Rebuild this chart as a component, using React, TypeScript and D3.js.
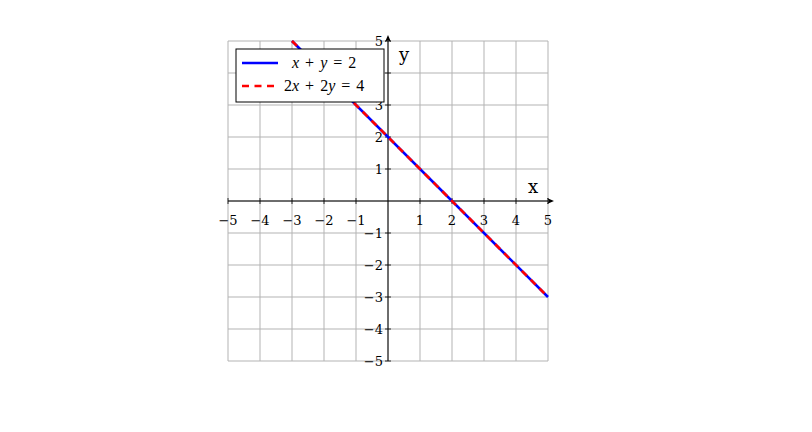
import React from "react";
import * as d3 from "d3";

const xTicks = [-5, -4, -3, -2, -1, 1, 2, 3, 4, 5];
const yTicks = [-5, -4, -3, -2, -1, 1, 2, 3, 4, 5];
const gridVals = [-5, -4, -3, -2, -1, 0, 1, 2, 3, 4, 5];
const line1X = [-3, 5];
const line1Y = [5, -3];

export default function App() {
  const W = 812, H = 432;
  const x = d3.scaleLinear().domain([-5, 5]).range([228, 548]);
  const y = d3.scaleLinear().domain([-5, 5]).range([361, 41]);
  const pts: [number, number][] = line1X.map((v, i) => [v, line1Y[i]]);
  const path = d3.line<[number, number]>().x(d => x(d[0])).y(d => y(d[1]))(pts) || "";
  const fmt = (v: number) => (v < 0 ? "\u2212" + Math.abs(v) : String(v));
  const font = "DejaVu Serif, Liberation Serif, serif";
  const mathFont = "Liberation Serif, serif";
  const dash = "7,5.5";
  return (
    <svg width={W} height={H} style={{ position: "absolute", left: 0, top: 0 }}>
      <rect width={W} height={H} fill="white" />
      {gridVals.map(v => (
        <line key={"gx" + v} x1={x(v)} x2={x(v)} y1={y(-5)} y2={y(5)} stroke="#b3b3b3" strokeWidth={1} />
      ))}
      {gridVals.map(v => (
        <line key={"gy" + v} y1={y(v)} y2={y(v)} x1={x(-5)} x2={x(5)} stroke="#b3b3b3" strokeWidth={1} />
      ))}
      {/* axes */}
      <line x1={x(-5)} x2={x(5) + 4} y1={y(0)} y2={y(0)} stroke="black" strokeWidth={1} />
      <path d={`M${x(5) + 6},${y(0)} L${x(5) - 1},${y(0) - 3} L${x(5) + 1},${y(0)} L${x(5) - 1},${y(0) + 3} Z`} fill="black" />
      <line x1={x(0)} x2={x(0)} y1={y(-5)} y2={y(5) - 4} stroke="black" strokeWidth={1} />
      <path d={`M${x(0)},${y(5) - 6} L${x(0) - 3},${y(5) + 1} L${x(0)},${y(5) - 1} L${x(0) + 3},${y(5) + 1} Z`} fill="black" />
      {xTicks.map(v => (
        <g key={"xt" + v}>
          <line x1={x(v)} x2={x(v)} y1={y(0) - 3} y2={y(0) + 3} stroke="black" strokeWidth={0.8} />
          <text x={x(v)} y={y(0) + 24} textAnchor="middle" fontFamily={font} fontSize={13}>{fmt(v)}</text>
        </g>
      ))}
      {yTicks.map(v => (
        <g key={"yt" + v}>
          <line x1={x(0) - 3} x2={x(0) + 3} y1={y(v)} y2={y(v)} stroke="black" strokeWidth={0.8} />
          <text x={x(0) - 5} y={y(v) + 5} textAnchor="end" fontFamily={font} fontSize={13}>{fmt(v)}</text>
        </g>
      ))}
      <text x={533} y={193} textAnchor="middle" fontFamily={font} fontSize={18}>x</text>
      <text x={404} y={61} textAnchor="middle" fontFamily={font} fontSize={18}>y</text>
      {/* lines */}
      <path d={path} stroke="blue" strokeWidth={2.6} fill="none" />
      <path d={path} stroke="red" strokeWidth={2.6} fill="none" strokeDasharray={dash} />
      {/* legend */}
      <rect x={236} y={49} width={148} height={53} fill="white" stroke="black" strokeWidth={1} />
      <line x1={242} x2={278} y1={63} y2={63} stroke="blue" strokeWidth={2.6} />
      <line x1={242} x2={278} y1={86} y2={86} stroke="red" strokeWidth={2.6} strokeDasharray={dash} />
      <text x={292} y={68} fontFamily={mathFont} fontSize={16}>
        <tspan fontStyle="italic">x</tspan>
        <tspan dx={6}>+</tspan>
        <tspan dx={6} fontStyle="italic">y</tspan>
        <tspan dx={6}>=</tspan>
        <tspan dx={6}>2</tspan>
      </text>
      <text x={284} y={91} fontFamily={mathFont} fontSize={16}>
        <tspan>2</tspan>
        <tspan fontStyle="italic">x</tspan>
        <tspan dx={6}>+</tspan>
        <tspan dx={6}>2</tspan>
        <tspan fontStyle="italic">y</tspan>
        <tspan dx={6}>=</tspan>
        <tspan dx={6}>4</tspan>
      </text>
    </svg>
  );
}
